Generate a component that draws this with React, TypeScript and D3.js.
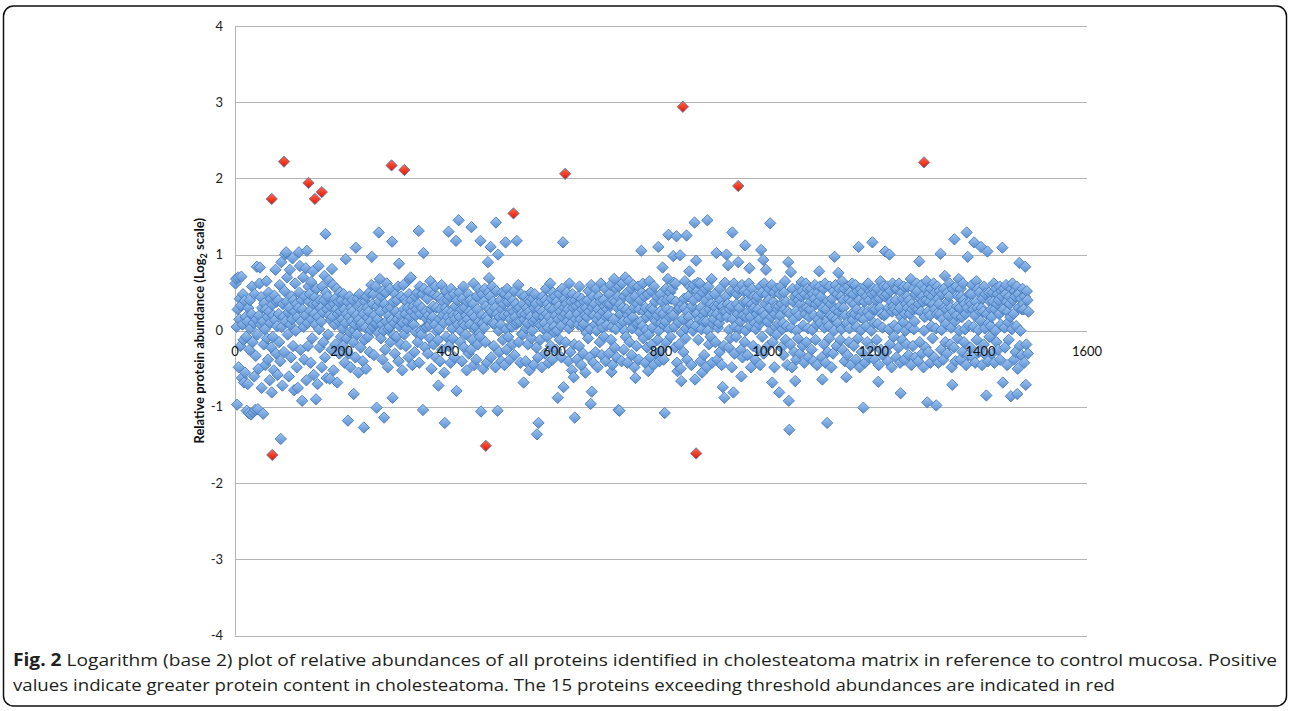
import React, { useRef, useEffect } from 'react';
import * as d3 from 'd3';

// relative abundance (log2, x100) of proteins 1..1490
const coreValues: number[] = [
  62, 68, 5, -35, 28, 70, -48, 15, 42, -20, 33, 71, -62, 8, 48, -12, 25, 39, -55, 18,
  -8, 45, 12, -70, 30, 2, -25, 40, 3, -42, 22, 58, -15, 35, 10, -60, 48, 26, -33, 15,
  84, -5, 38, -50, 20, 62, -28, 8, 44, -75, 30, 12, 55, -18, 36, 2, -45, 28, 65, -10,
  18, -38, 50, 25, -65, 10, 42, -22, 76, 34, -8, 20, -52, 46, 14, 80, -30, 38, 6, -58,
  40, 22, -15, 60, -40, 28, 90, 5, -72, 35, 18, -28, 52, 100, 12, -45, 38, 70, -5, 24,
  -60, 30, 80, 8, -35, 45, 15, 95, -20, 40, -78, 25, 62, 0, 35, -48, 18, 75, 30, -12,
  50, 85, -25, 12, 40, -55, 28, 70, 5, -38, 45, 20, 82, -65, 32, 10, -20, 58, 38, 48,
  26, -42, 64, 15, -10, 78, 35, -58, 22, 44, 8, -30, 55, 36, -70, 18, 85, 2, -22, 40,
  30, 12, -48, 58, 24, -15, 40, 72, -35, 10, 50, -62, 28, 45, -5, 66, 20, -40, 32, 14,
  -25, 48, 18, 60, -52, 35, 8, 42, -18, 28, 55, -68, 22, 38, 12, -30, 50, 25, -8, 40,
  15, 3, -20, 48, 28, -42, 10, 55, 22, -10, 38, 6, -30, 18, 45, -2, -48, 30, 12, 25,
  40, -15, 25, 0, 8, -35, 60, 20, -5, 42, 13, -55, 15, 48, 35, -22, 7, 10, 28, -40,
  22, 65, -12, 38, 4, -50, 45, 30, 17, -8, 25, 50, -28, 12, 1, 60, -18, 35, 5, 48,
  -32, 20, 9, 58, 10, -45, 32, 15, -3, -20, 38, 68, 25, -10, 45, 8, -38, 52, 0, 18,
  35, -25, 50, 12, 62, 28, -48, 2, 20, 5, 55, -15, 30, 14, -58, 18, 38, -6, 10, -30,
  48, 25, -8, 40, 15, 58, -40, 30, 6, 20, -18, 45, 11, -52, 10, 60, 28, -5, 42, 22,
  -20, 38, 3, 12, 30, -35, 48, 68, 18, -12, 40, 25, -45, 9, 32, 8, -28, 45, 20, -2,
  28, 50, -15, 35, 10, -42, 58, 22, 0, -5, 30, 48, -38, 15, 55, 4, -22, 25, 16, 5,
  42, -30, 20, 52, 7, -10, 65, 28, -50, 13, 18, 32, -18, 48, 8, 58, -35, 30, -1, 45,
  -12, 35, 2, 15, -40, 28, 42, 60, -25, 20, 38, 10, -55, 6, 30, 52, -8, 25, 40, 18,
  30, -20, 45, 12, -42, 55, 25, 3, -10, 20, 48, -35, 15, 32, 60, -28, 40, 8, 22, -48,
  50, 18, -15, 0, 28, -40, 42, 10, 58, -22, 30, 7, -5, 20, -52, 38, 15, 48, -30, 25,
  8, 40, -25, 52, 22, -12, 35, 62, -45, 18, 1, 5, -38, 45, 28, -18, 55, 12, -3, -8,
  42, -30, 20, 48, 10, -50, 38, 4, 55, -15, 32, 18, -42, 14, 5, 50, -22, 28, 45, 15,
  -35, 25, 58, 10, 38, -20, 9, 30, -48, 15, 52, 22, -10, 35, 0, -28, 18, 40, 8, -40,
  28, 50, -12, 35, 20, -45, 48, 12, 2, -25, 55, 38, -8, 22, 45, -38, 15, 6, 28, 5,
  -18, 40, 25, 52, -32, 18, 35, 8, -50, 11, 28, 60, -15, 30, 12, -42, 48, 22, -4, -5,
  35, -28, 15, 45, 22, -40, 3, 30, 10, -18, 40, 25, -52, 38, 18, 50, -10, 0, 42, 12,
  -45, 30, 48, 15, 35, -22, 58, 20, -35, 42, 8, 28, -12, 7, 38, -48, 25, 45, 18, 2,
  10, -30, 40, 55, 22, -8, 35, 4, -42, 18, 30, 62, -20, 42, 12, -38, 50, 28, 5, -2,
  45, 20, -25, 38, 0, -45, 15, 32, 48, -12, 25, 6, -35, 55, 18, 8, -48, 30, 42, 22,
  -15, 35, 50, 12, 28, -40, 3, 62, 20, -28, 38, 10, -52, 48, 30, 1, -18, 25, 40, 15,
  32, -38, 22, 45, 8, -20, 58, 35, 15, -45, 42, 28, 5, -30, 9, 38, 20, -55, 30, -3,
  18, 40, -10, 52, 25, -35, 2, 12, 60, -22, 30, 45, -42, 20, 35, 8, -28, 55, 0, 15,
  -48, 28, 45, 20, -15, 38, 62, 10, -32, 4, 25, 40, -8, 32, 55, -40, 18, 7, 28, 35,
  20, -30, 48, 35, 60, -12, 28, 5, -45, 40, 15, 68, -22, 38, 2, 55, -35, 30, 45, 10,
  58, -18, 35, 22, 8, -40, 62, 30, 12, -25, 45, 0, 70, -8, 28, 50, -42, 20, 14, 65,
  -15, 42, 25, 55, -32, 3, 18, 60, 30, -48, 45, 22, 9, -20, 35, 10, 58, -38, 28, -2,
  40, 12, -28, 50, 6, 62, -10, 25, 45, -42, 30, 1, 18, -22, 48, 38, -5, 65, 22, -35,
  30, 52, -18, 4, 28, -45, 58, 15, 38, 13, -30, 45, 20, -12, 35, 0, -40, 25, 48, 10,
  -25, 38, 60, 22, -38, 7, 30, 12, 55, -15, 40, 28, 68, -48, 2, 18, 50, -8, 42, 25,
  55, 20, -35, 45, 5, -22, 62, 38, 10, -42, 48, 28, 11, -18, 30, 40, -50, 22, -3, 35,
  15, -28, 42, 30, 65, -10, 3, 50, -38, 25, 45, 18, -25, 58, 8, 8, -45, 32, 55, 0,
  40, 60, -20, 28, 6, -35, 22, 52, 35, -12, 45, 15, 62, -40, 30, 2, -28, 50, 20, 12,
  -32, 25, 55, 40, 12, -48, 38, 0, 58, -18, 28, 45, -8, 35, 68, -42, 22, 9, 15, 32,
  48, -15, 30, 62, 22, -38, 4, 35, 10, -28, 55, 40, 18, -45, 32, 7, 25, -20, 42, 60,
  25, 45, -40, 18, 35, 58, -22, 1, 28, -10, 52, 32, -48, 14, 15, 38, 62, -30, 5, 50,
  -8, 35, 48, 22, -42, 55, 30, 3, 12, -25, 45, 60, -35, 20, 38, 52, -15, 28, 0, 18,
  38, -32, 25, 50, 62, -12, 6, 18, -48, 35, 55, 28, -20, 45, 30, 10, -38, 2, 40, 22,
  45, 28, -25, 8, 15, -45, 58, 32, 50, -8, 25, 3, -30, 62, 20, 35, -42, 48, 12, 12,
  -20, 40, 55, 30, -35, 0, 18, 60, 25, -15, 38, 50, -48, 22, 5, 32, -5, 55, 28, 9,
  32, -40, 48, 20, 58, -22, 35, 2, 10, -32, 50, 28, 65, -12, 38, 6, -45, 25, 52, 18,
  50, 22, -18, 42, 4, -48, 55, 38, 15, -28, 45, 60, 25, -38, 0, 48, -10, 40, 20, 58,
  -30, 35, 45, 12, 52, -20, 7, 28, -42, 48, 22, 62, -15, 30, 55, 3, -35, 18, 45, 28,
  38, 55, -25, 1, 48, -40, 20, 42, 60, -12, 35, 8, -45, 50, 15, 38, -22, 58, 10, 45,
  22, -35, 48, 30, 55, -18, 4, 62, -42, 28, 12, 50, -28, 38, 6, -10, 58, 20, 35, -48,
  42, 18, -30, 52, 0, -45, 28, 60, 15, -20, 48, 10, -38, 25, 55, 32, -12, 45, 2, 65,
  -25, 40, 30, 55, -40, 20, 8, 35, 10, -32, 58, 42, -15, 3, 50, -45, 38, 22, 62, 14,
  48, -20, 35, 22, 60, -38, 5, 28, 52, -10, 32, 40, -48, 18, 55, 1, -28, 50, 25, 42,
  15, 38, -42, 58, 6, 45, -15, 25, 62, -35, 40, 20, 52, -22, 0, 48, -40, 28, 55, 10,
  -38, 50, 28, 40, -12, 55, 9, 18, -45, 42, 30, 65, -25, 22, 48, 4, -32, 58, 20, 45,
  35, 22, -28, 48, 58, -40, 30, 2, 15, -18, 52, 38, -48, 25, 62, 32, -8, 7, 28, 55,
  40, -35, 55, 25, 3, -22, 62, 30, -42, 38, 18, 50, -12, 42, 11, 58, -38, 22, 0, 35,
  -18, 45, 30, 58, -32, 40, 22, 5, 68, -45, 35, 28, -20, 55, 2, 12, -35, 48, 30, 62,
  52, 28, -40, 35, 8, -15, 42, 25, 60, -30, 45, 38, -48, 0, 18, 55, -22, 40, 65, 32,
  25, -28, 48, 38, 20, -42, 55, 6, 45, -10, 35, 62, -35, 28, 50, 3, -18, 22, 58, 42,
  -42, 35, 52, 22, 60, -25, 1, 48, 15, -38, 55, 30, 72, -15, 9, 28, -30, 50, 38, 20,
  45, 62, -18, 30, 4, -48, 35, 55, 25, -22, 48, 12, -40, 58, 20, 32, -10, 45, 68, 0,
  30, -38, 55, 45, 18, -28, 62, 40, -15, 35, 2, 22, -45, 42, 30, 58, -32, 7, 48, 38,
  -22, 48, 35, 60, -35, 28, 5, 52, 20, -42, 38, 65, -12, 30, 55, 1, -28, 50, 25, 13,
  55, 30, -45, 42, 25, -18, 58, 3, 48, -32, 40, 22, 62, -40, 10, 50, -8, 38, 6, 28,
  18, -30, 50, 38, 62, -42, 28, 0, 55, -15, 35, 48, -25, 40, 22, 58, -38, 8, 52, 45,
  -35, 42, 28, 55, 4, -22, 48, 60, 38, -45, 25, 11, -12, 45, 35, 18, -40, 55, 2, 62,
  40, 22, -38, 52, 45, -28, 6, 58, 20, -50, 48, 30, 65, -20, 0, 42, -32, 28, 55, 35,
  28, -42, 45, 60, 9, -18, 52, 40, -30, 25,
];

// proteins lying outside the band: [index, value x100]
const blueOutliers: [number, number][] = [
  [4, -97], [17, -68], [22, -105], [26, -108], [30, -110], [34, -107], [38, -104], [43, -103],
  [47, 83], [53, -109], [69, -81], [86, -142], [96, 103], [118, -75], [120, 103], [126, -92],
  [135, 105], [152, -90], [170, 127], [178, -63], [182, 81], [208, 94], [212, -118], [223, -83],
  [227, 109], [242, -127], [257, 97], [266, -101], [270, 129], [280, -114], [295, 117],
  [296, -88], [308, 88], [330, 70], [345, 131], [353, -104], [354, 102],
  [382, -72], [394, -121], [401, 130], [415, 118], [416, -79], [420, 145], [444, 136],
  [461, 118], [462, -106], [475, 90], [477, 69], [480, 110], [490, 142], [493, -105],
  [494, 100], [508, 116], [529, 118], [542, -68], [567, -136], [570, -121], [606, -88],
  [616, 116], [617, -74], [636, -61], [638, -114], [668, -96], [670, -80], [707, -54],
  [720, -104], [722, -105], [752, -62], [763, 105], [776, -53], [795, 110], [803, 83],
  [807, -108], [814, 126], [823, 98], [824, 63], [829, 124], [831, -53], [836, 99],
  [838, -66], [848, 125], [853, 78], [863, 142], [864, -64], [866, 92], [869, 63],
  [877, -55], [887, 145], [904, 102], [916, -74], [919, -88], [920, 63], [923, 100],
  [926, 86], [934, 129], [936, -81], [945, 90], [951, -60], [958, 112], [966, 82],
  [988, 106], [992, 93], [997, 80], [1005, 141], [1009, -68], [1022, -81], [1039, 90],
  [1040, -92], [1041, -130], [1044, 77], [1052, -66], [1064, 64], [1097, 78], [1103, -64],
  [1112, -121], [1126, 97], [1133, 76], [1148, -61], [1171, 110], [1180, -101], [1197, 116],
  [1208, -67], [1221, 104], [1229, 100], [1250, -82], [1285, 91], [1300, -94], [1317, -98],
  [1325, 101], [1347, -71], [1351, 120], [1374, 129], [1376, 97], [1388, 116], [1401, 110],
  [1411, -85], [1413, 104], [1441, 109], [1442, -68], [1457, -86], [1469, -83], [1473, 89],
  [1484, 84], [1485, -71],
];

// the 15 proteins exceeding threshold abundance: [index, value x100]
const redPoints: [number, number][] = [
  [69, 173], [70, -163], [92, 222], [138, 194], [150, 173], [163, 182], [294, 217],
  [318, 211], [471, -151], [523, 154], [620, 206], [841, 294], [866, -161], [945, 190],
  [1294, 221],
];

const yTicks = [-4, -3, -2, -1, 0, 1, 2, 3, 4];
const xTicks = [0, 200, 400, 600, 800, 1000, 1200, 1400, 1600];

const captionLead = 'Fig. 2';
const captionLine1 =
  ' Logarithm (base 2) plot of relative abundances of all proteins identified in cholesteatoma matrix in reference to control mucosa. Positive';
const captionLine2 =
  'values indicate greater protein content in cholesteatoma. The 15 proteins exceeding threshold abundances are indicated in red';

// square diamond marker (d3.symbolDiamond is too tall)
const squareDiamond = {
  draw(context: any, size: number) {
    const r = Math.sqrt(size) / 2;
    context.moveTo(0, -r);
    context.lineTo(r, 0);
    context.lineTo(0, r);
    context.lineTo(-r, 0);
    context.closePath();
  },
};

const App = () => {
  const chartRef = useRef<SVGSVGElement>(null);

  useEffect(() => {
    const svg = d3.select(chartRef.current);
    svg.selectAll('*').remove();

    const x = d3.scaleLinear().domain([0, 1600]).range([235, 1087]);
    const y = d3.scaleLinear().domain([-4, 4]).range([635.5, 26]);

    //gradients for the markers
    const defs = svg.append('defs');
    const blueGrad = defs.append('linearGradient').attr('id', 'blueFill')
      .attr('x1', 0).attr('y1', 0).attr('x2', 0).attr('y2', 1);
    blueGrad.append('stop').attr('offset', '0%').attr('stop-color', '#9fc5ef');
    blueGrad.append('stop').attr('offset', '100%').attr('stop-color', '#5a8fd3');
    const redGrad = defs.append('linearGradient').attr('id', 'redFill')
      .attr('x1', 0).attr('y1', 0).attr('x2', 0).attr('y2', 1);
    redGrad.append('stop').attr('offset', '0%').attr('stop-color', '#ff6a4a');
    redGrad.append('stop').attr('offset', '100%').attr('stop-color', '#e61200');

    //frame
    svg.append('rect')
      .attr('x', 3.5).attr('y', 6).attr('width', 1283).attr('height', 700)
      .attr('rx', 10).attr('ry', 10)
      .attr('fill', 'none').attr('stroke', '#111').attr('stroke-width', 1.5);

    //horizontal gridlines
    svg.append('g')
      .selectAll('line')
      .data(yTicks)
      .join('line')
      .attr('x1', x(0)).attr('x2', x(1600))
      .attr('y1', d => Math.round(y(d)) + 0.5).attr('y2', d => Math.round(y(d)) + 0.5)
      .attr('stroke', '#b5b5b5').attr('stroke-width', 1);

    //left axis line
    svg.append('line')
      .attr('x1', x(0) + 0.5).attr('x2', x(0) + 0.5)
      .attr('y1', y(4)).attr('y2', y(-4))
      .attr('stroke', '#b5b5b5');

    //y tick labels
    svg.append('g')
      .selectAll('text')
      .data(yTicks)
      .join('text')
      .attr('x', 223)
      .attr('y', d => y(d) + 4.5)
      .attr('text-anchor', 'end')
      .style('font-family', 'Lato, "Open Sans", sans-serif')
      .style('font-size', '13px')
      .style('fill', '#222')
      .text(d => d);

    //y axis title
    const title = svg.append('text')
      .attr('transform', `translate(204,${y(0)}) rotate(-90)`)
      .attr('text-anchor', 'middle')
      .style('font-family', 'Lato, "Open Sans", sans-serif')
      .style('font-size', '13px')
      .style('font-weight', 'bold')
      .style('fill', '#111');
    title.append('tspan').text('Relative protein abundance (Log');
    title.append('tspan').attr('dy', 3).style('font-size', '9px').text('2');
    title.append('tspan').attr('dy', -3).text(' scale)');

    const marker = d3.symbol().type(squareDiamond as any).size(128);

    const overrides = new Map(blueOutliers);
    const bluePoints = coreValues.map((v, i) => [i + 1, (overrides.get(i + 1) ?? v) / 100]);

    svg.append('g')
      .selectAll('path')
      .data(bluePoints)
      .join('path')
      .attr('d', marker as any)
      .attr('transform', d => `translate(${x(d[0])},${y(d[1])})`)
      .attr('fill', 'url(#blueFill)')
      .attr('stroke', '#4a7cbc')
      .attr('stroke-width', 0.9);

    svg.append('g')
      .selectAll('path')
      .data(redPoints)
      .join('path')
      .attr('d', marker as any)
      .attr('transform', d => `translate(${x(d[0])},${y(d[1] / 100)})`)
      .attr('fill', 'url(#redFill)')
      .attr('stroke', '#5d7fb5')
      .attr('stroke-width', 0.9);

    //x tick labels sit on top of the points, just under the zero line
    svg.append('g')
      .selectAll('text')
      .data(xTicks)
      .join('text')
      .attr('x', d => x(d))
      .attr('y', y(0) + 25)
      .attr('text-anchor', 'middle')
      .style('font-family', 'Lato, "Open Sans", sans-serif')
      .style('font-size', '13px')
      .style('fill', '#111')
      .text(d => d);

    //caption
    const cap1 = svg.append('text')
      .attr('x', 13).attr('y', 666)
      .attr('textLength', 1264).attr('lengthAdjust', 'spacingAndGlyphs')
      .style('font-family', '"Open Sans", "Noto Sans", sans-serif')
      .style('font-size', '17px')
      .style('fill', '#231f20');
    cap1.append('tspan').style('font-weight', 'bold').text(captionLead);
    cap1.append('tspan').text(captionLine1);

    svg.append('text')
      .attr('x', 13).attr('y', 691)
      .attr('textLength', 1102).attr('lengthAdjust', 'spacingAndGlyphs')
      .style('font-family', '"Open Sans", "Noto Sans", sans-serif')
      .style('font-size', '17px')
      .style('fill', '#231f20')
      .text(captionLine2);
  }, []);

  return (
    <svg
      ref={chartRef}
      width={1290}
      height={711}
      style={{ position: 'absolute', left: 0, top: 0, background: '#fff' }}
    />
  );
};

export default App;
